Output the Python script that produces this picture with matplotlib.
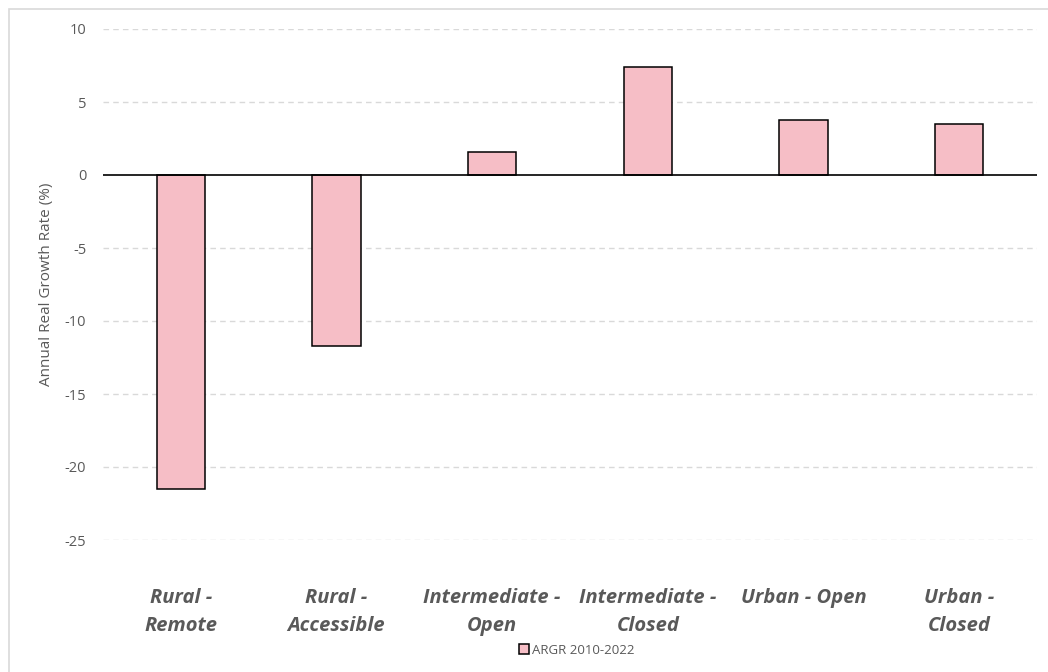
import matplotlib.pyplot as plt
import numpy as np

categories = ["Rural -\nRemote", "Rural -\nAccessible", "Intermediate -\nOpen",
              "Intermediate -\nClosed", "Urban - Open", "Urban -\nClosed"]
argr = [-21.5, -11.7, 1.55, 7.4, 3.75, 3.5]
yticks = [10, 5, 0, -5, -10, -15, -20, -25]

plt.rcParams['font.family'] = ['Open Sans', 'DejaVu Sans']
grey = '#595959'

fig = plt.figure(figsize=(10.48, 6.72), dpi=100)
ax = fig.add_axes([103 / 1048, 1 - 540 / 672, 934 / 1048, 511 / 672])

x = np.arange(len(categories))
ax.bar(x, argr, width=0.31, color='#F6BEC6', edgecolor='black', linewidth=1.1,
       label='ARGR 2010-2022', zorder=3)

ax.set_xlim(-0.5, len(categories) - 0.5)
ax.set_ylim(-25, 10)
ax.set_yticks(yticks)
ax.set_yticklabels([str(t) for t in yticks], color=grey, fontsize=10.5)
ax.tick_params(axis='y', length=0, pad=12)
ax.tick_params(axis='x', length=0, pad=0)
ax.set_xticks(x)
ax.set_xticklabels([])

# dashed gridlines, solid zero line
for t in yticks:
    if t != 0:
        ax.axhline(t, color='#D9D9D9', linewidth=1, linestyle=(0, (4, 3)), zorder=1)
ax.axhline(0, color='black', linewidth=1.2, zorder=4)

for s in ax.spines.values():
    s.set_visible(False)

# category labels, centred on the first line
for xi, lab in zip(x, categories):
    ax.text(xi, -28.3, lab, ha='center', va='top', fontsize=14.5,
            fontweight='bold', style='italic', color=grey, linespacing=1.5)

ax.set_ylabel('Annual Real Growth Rate (%)', color=grey, fontsize=11, labelpad=8)

leg = fig.legend(loc='center', bbox_to_anchor=(577 / 1048, 1 - 650 / 672),
                 frameon=False, fontsize=9.5, handlelength=0.7, handleheight=0.7,
                 handletextpad=0.25)
for t in leg.get_texts():
    t.set_color(grey)

fig.patches.append(plt.Rectangle((9 / 1048, -0.1), 1.2, 1 - 9 / 672 + 0.1,
                                 transform=fig.transFigure, fill=False,
                                 edgecolor='#D9D9D9', linewidth=1.2))

fig.savefig('out.png', dpi=100)
